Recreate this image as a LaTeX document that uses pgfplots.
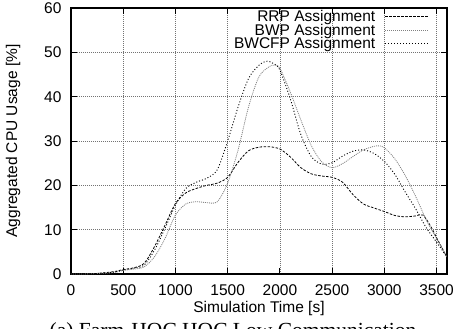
\documentclass[border=0pt]{standalone}
\usepackage{pgfplots}
\pgfplotsset{compat=1.18}
\usepackage{fontspec}
\setmainfont{Liberation Sans}
\newfontfamily\capfont{Liberation Serif}
\newcommand{\lblfont}{\fontsize{15.5bp}{17bp}\selectfont}

\pgfplotstableread{
x y
0 0
200 0.05
400 0.5
500 1.0
600 1.4
700 2.4
800 6.2
900 11.0
1000 15.9
1100 18.3
1200 19.3
1300 20.0
1400 20.5
1500 21.8
1600 25.2
1700 27.8
1800 28.6
1900 28.7
2000 28.2
2100 26.4
2200 24.0
2300 22.6
2400 22.1
2500 21.8
2600 20.7
2700 17.9
2800 15.8
2900 14.9
3000 14.1
3100 13.2
3200 12.9
3300 13.1
3370 13.3
3450 10.5
3500 8.2
3600 3.8
}\rrp

\pgfplotstableread{
x y
0 0
200 0.05
400 0.3
500 0.8
600 1.1
700 1.6
800 3.9
900 8.0
1000 13.3
1100 15.8
1200 16.3
1300 16.1
1400 16.3
1500 20.5
1600 28.0
1700 37.7
1800 44.5
1900 46.8
1950 47.1
2000 46.4
2100 41.0
2200 34.8
2300 29.0
2400 25.3
2500 24.0
2600 24.9
2700 26.5
2800 28.0
2900 28.8
2950 28.9
3000 28.5
3100 26.0
3200 22.2
3300 17.5
3400 12.3
3500 8.0
3600 3.8
}\bwp

\pgfplotstableread{
x y
0 0
200 0.05
400 0.4
500 0.9
600 1.3
700 2.0
800 5.4
900 10.3
1000 15.5
1100 19.3
1200 20.7
1300 21.6
1400 23.5
1500 30.0
1600 37.7
1700 44.1
1800 47.1
1880 48.0
1950 47.3
2000 46.0
2100 39.5
2200 31.5
2300 26.5
2400 24.8
2500 25.1
2600 26.6
2700 27.7
2800 28.0
2900 27.2
3000 25.4
3100 22.5
3200 18.5
3300 14.7
3400 10.5
3500 7.2
3600 3.8
}\bwcfp

\begin{document}
\begin{tikzpicture}
\begin{axis}[
  at={(0,0)}, anchor=south west,
  scale only axis,
  width=376bp, height=266bp,
  xmin=0, xmax=3600, ymin=0, ymax=60,
  xtick={0,500,...,3500},
  ytick={0,10,...,60},
  tick align=inside,
  xtick pos=both, ytick pos=both,
  major tick length=6bp,
  tick style={black, line width=0.8bp},
  axis line style={black, line width=1.4bp},
  grid=major,
  major grid style={black!55, line width=0.6bp, dash pattern=on 0.8bp off 1.2bp},
  /pgf/number format/assume math mode=true,
  /pgf/number format/set thousands separator={},
  ticklabel style={font=\lblfont},
  xticklabel style={anchor=base, yshift=-21bp},
  yticklabel style={anchor=east, xshift=-6bp},
  xlabel={Simulation Time [s]},
  ylabel={Aggregated CPU Usage [\%]},
  every axis x label/.style={at={(axis description cs:0.5,0)}, anchor=base, yshift=-38bp, font=\lblfont},
  every axis y label/.style={at={(axis description cs:-0.154,0.5)}, anchor=center, rotate=90, font=\lblfont},
  legend style={at={(axis description cs:0.952,0.995)}, anchor=north east, draw=none, fill=none,
    font=\lblfont, inner sep=0pt, row sep=-1.2bp,
    nodes={inner sep=1bp}},
  legend cell align=right,
  legend plot pos=right,
  legend image code/.code={\path[draw=none,fill=none] (0bp,0bp) -- (52bp,0bp); \draw[#1] (9bp,0bp) -- (52bp,0bp);},
]
\addplot[black, line width=0.8bp, dash pattern=on 2.5bp off 1.5bp, smooth, tension=0.5] table {\rrp};
\addlegendentry{RRP Assignment}
\addplot[black!50, line width=0.8bp, dash pattern=on 1bp off 1bp, smooth, tension=0.5] table {\bwp};
\addlegendentry{BWP Assignment}
\addplot[black, line width=0.9bp, dash pattern=on 1bp off 2bp, smooth, tension=0.5] table {\bwcfp};
\addlegendentry{BWCFP Assignment}
\end{axis}
\node[anchor=base, font=\capfont\fontsize{21.5bp}{24bp}\selectfont, inner sep=0pt] at (162bp,-63bp) {(a) Farm-HOC HOC Low Communication};
\pgfresetboundingbox
\useasboundingbox (-71bp,-55bp) rectangle (385bp,274bp);
\end{tikzpicture}
\end{document}
